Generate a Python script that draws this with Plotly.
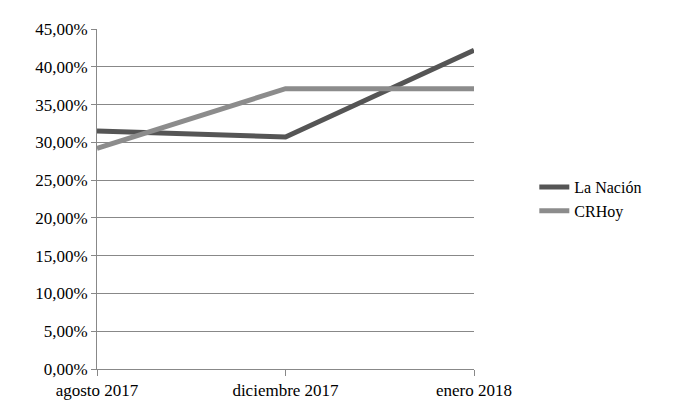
import plotly.graph_objects as go

categories = ["agosto 2017", "diciembre 2017", "enero 2018"]
la_nacion = [0.315, 0.307, 0.422]
crhoy = [0.292, 0.371, 0.371]
y_ticks = [i * 0.05 for i in range(10)]
y_labels = [f"{v*100:.2f}%".replace(".", ",") for v in y_ticks]

x = list(range(len(categories)))
fig = go.Figure()
fig.add_trace(go.Scatter(x=x, y=la_nacion, name="La Nación", mode="lines",
                         line=dict(color="#555555", width=5)))
fig.add_trace(go.Scatter(x=x, y=crhoy, name="CRHoy", mode="lines",
                         line=dict(color="#8c8c8c", width=5)))
font = dict(family="Liberation Serif, DejaVu Serif, serif", size=17, color="#000")
fig.update_layout(
    width=666, height=407, margin=dict(l=89, r=200, t=15, b=46),
    paper_bgcolor="white", plot_bgcolor="white", font=font,
    legend=dict(x=1.16, y=0.5, yanchor="middle", xanchor="left",
                font=dict(size=16), tracegroupgap=6),
    xaxis=dict(range=[0, 2], tickvals=x, ticktext=categories, showgrid=False,
               showline=True, linecolor="#888", ticks="outside", ticklen=6,
               tickcolor="#888", zeroline=False),
    yaxis=dict(range=[0, 0.45], tickvals=y_ticks, ticktext=y_labels,
               showgrid=True, gridcolor="#888", gridwidth=1, showline=True,
               linecolor="#888", ticks="outside", ticklen=5, tickcolor="#888",
               zeroline=False),
)
fig.write_html("out.html")
